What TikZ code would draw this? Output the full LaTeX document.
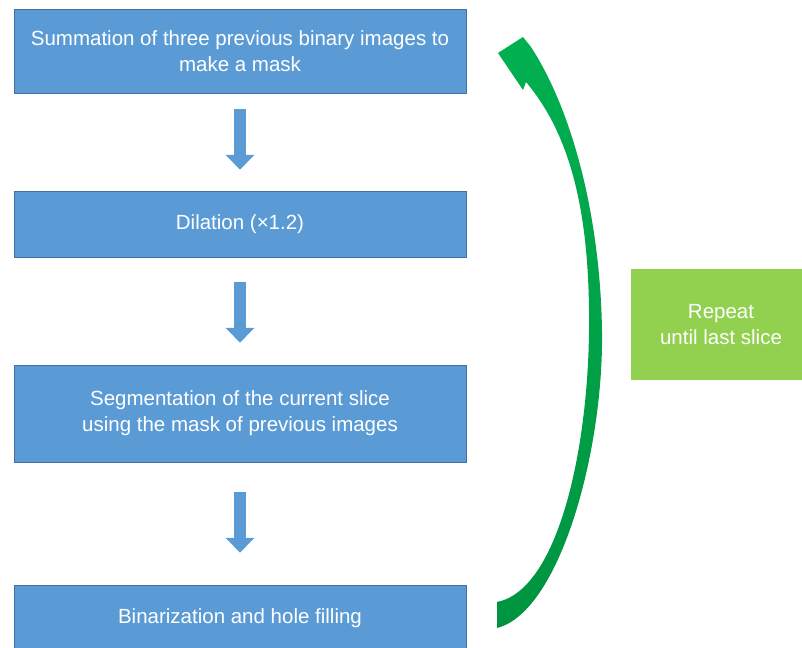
\documentclass[tikz,border=0pt]{standalone}
\usepackage{fontspec}
\setmainfont{Liberation Sans}
\usetikzlibrary{arrows.meta}
\definecolor{stepblue}{HTML}{5B9BD5}
\definecolor{stepedge}{HTML}{41719C}
\definecolor{loopgreen}{HTML}{92D050}
\definecolor{arctop}{HTML}{00B050}
\definecolor{arcbot}{HTML}{009440}

\begin{document}
\begin{tikzpicture}[x=0.03cm,y=-0.03cm,
        stepbox/.style={draw=stepedge,fill=stepblue,text=white,align=center,
            minimum width=13.56cm,font=\fontsize{17.5}{22.5}\selectfont},
        loopbox/.style={fill=loopgreen,text=white,align=center,
            minimum width=5.4cm,minimum height=3.33cm,font=\fontsize{17.5}{22.5}\selectfont},
        down/.style={stepblue,line width=0.34cm,-{Triangle[length=0.45cm,width=0.84cm]}}]
                \useasboundingbox (0,0) rectangle (802,648);
                \clip (0,0) rectangle (802,648);
                \node[stepbox,minimum height=2.52cm] (sum) at (240,51) {Summation of three previous binary images to\\make a mask};
                \node[stepbox,minimum height=1.98cm] (dil) at (240,224) {Dilation (×1.2)};
                \node[stepbox,minimum height=2.91cm] (seg) at (240,413.5) {Segmentation of the current slice\\using the mask of previous images};
                \node[stepbox,minimum height=1.98cm] (bin) at (240,618) {Binarization and hole filling};
                \node[loopbox] (rep) at (721,324.5) {Repeat\\until last slice};
                \draw[down,shorten <=0.48cm,shorten >=0.63cm] (sum.south) -- (dil.north);
                \draw[down,shorten <=0.75cm,shorten >=0.66cm] (dil.south) -- (seg.north);
                \draw[down,shorten <=0.9cm,shorten >=0.96cm] (seg.south) -- (bin.north);
                % loop back arrow
                \shade[top color=arctop,bottom color=arcbot]
                    (497,628) .. controls (560,612) and (604,450) .. (602,330)
                    .. controls (600,215) and (572,110) .. (531,47)
                    -- (523,37) -- (498,53) -- (523,90) -- (526,82)
                    .. controls (575,140) and (590,225) .. (589,330)
                    .. controls (588,450) and (558,590) .. (497,602) -- cycle;
\end{tikzpicture}
\end{document}
